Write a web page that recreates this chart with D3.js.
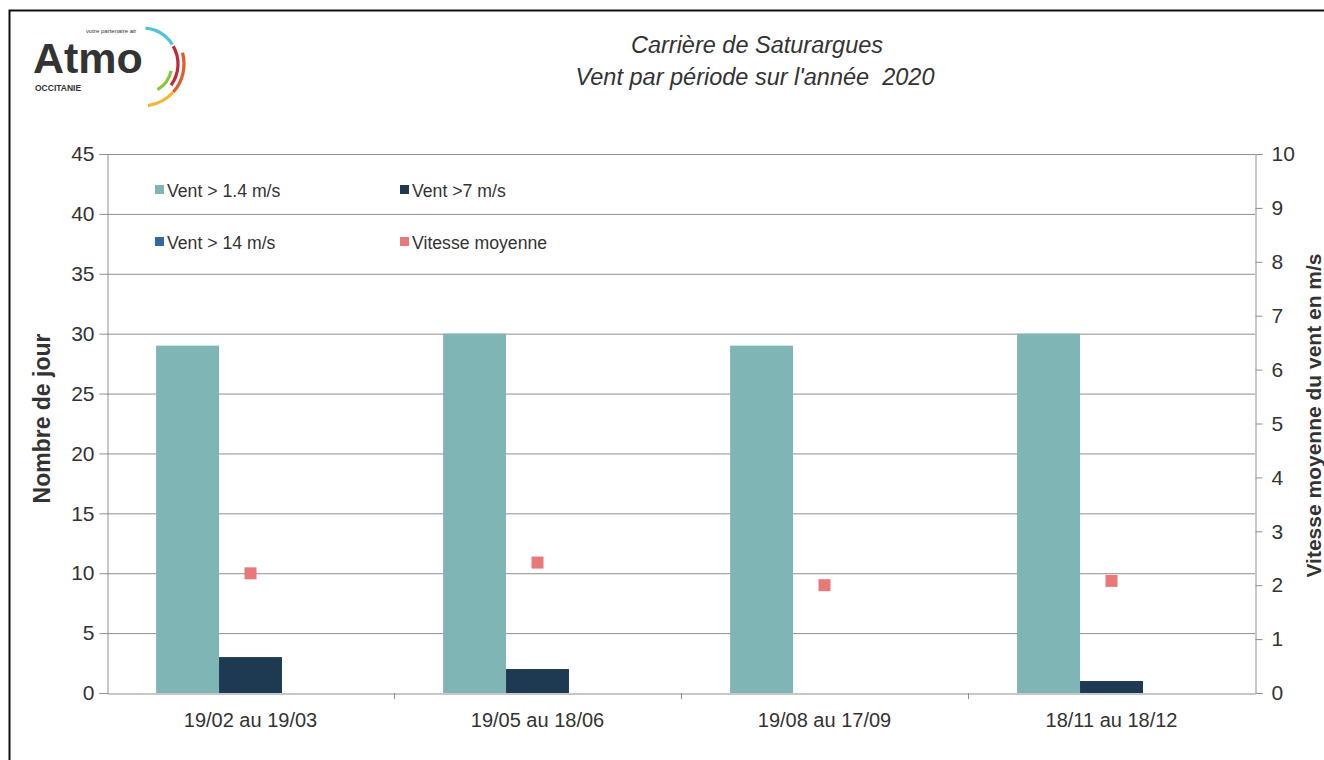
<!DOCTYPE html>
<html>
<head>
<meta charset="utf-8">
<script src="https://cdn.jsdelivr.net/npm/d3@7"></script>
<style>
  body { margin: 0; background: white; }
  svg text { font-family: "Liberation Sans", Arial, sans-serif; fill: #333; }
</style>
</head>
<body>
<svg></svg>
<script>
// données
const periods = ["19/02 au 19/03", "19/05 au 18/06", "19/08 au 17/09", "18/11 au 18/12"];
const vent14 = [29, 30, 29, 30];      // Vent > 1.4 m/s
const vent7 = [3, 2, 0, 1];           // Vent >7 m/s
const vent140 = [0, 0, 0, 0];         // Vent > 14 m/s
const vitesse = [2.22, 2.42, 2.0, 2.08]; // Vitesse moyenne (m/s)
const leftTicks = [0, 5, 10, 15, 20, 25, 30, 35, 40, 45];
const rightTicks = [0, 1, 2, 3, 4, 5, 6, 7, 8, 9, 10];

const series = [
  { name: "Vent > 1.4 m/s", values: vent14, color: "#80b5b6" },
  { name: "Vent >7 m/s", values: vent7, color: "#1e3a53" },
  { name: "Vent > 14 m/s", values: vent140, color: "#2f6aa0" }
];
const POINT_COLOR = "#e8787a";
const GRID = "#8f8f8f";

const W = 1324, H = 760;
const plot = { left: 107, right: 1255, top: 154, bottom: 693 };

const svg = d3.select("svg").attr("width", W).attr("height", H);

// cadre
svg.append("rect")
  .attr("x", 9.5).attr("y", 10.5)
  .attr("width", W).attr("height", H)
  .attr("fill", "none").attr("stroke", "#111").attr("stroke-width", 2);

// échelles
const x = d3.scaleBand().domain(periods).range([plot.left, plot.right]);
const xs = d3.scaleBand().domain(series.map(s => s.name))
  .range([0, x.bandwidth()]).paddingInner(0).paddingOuter(0.78);
const yL = d3.scaleLinear().domain([0, 45]).range([plot.bottom, plot.top]);
const yR = d3.scaleLinear().domain([0, 10]).range([plot.bottom, plot.top]);

// grille
svg.append("g").selectAll("line")
  .data(leftTicks.filter(d => d > 0))
  .enter().append("line")
  .attr("x1", plot.left).attr("x2", plot.right)
  .attr("y1", d => yL(d) + 0.5).attr("y2", d => yL(d) + 0.5)
  .attr("stroke", GRID).attr("stroke-width", 1);

// barres
series.forEach(s => {
  svg.append("g").selectAll("rect")
    .data(periods)
    .enter().append("rect")
    .attr("x", (d) => x(d) + xs(s.name))
    .attr("width", xs.bandwidth())
    .attr("y", (d, i) => yL(s.values[i]))
    .attr("height", (d, i) => yL(0) - yL(s.values[i]))
    .attr("fill", s.color);
});

// axe gauche
const axL = svg.append("g")
  .attr("transform", `translate(${plot.left + 0.5},0)`)
  .call(d3.axisLeft(yL).tickValues(leftTicks).tickSize(8).tickPadding(5));
axL.selectAll("text").style("font-size", "21px").attr("fill", "#444");

// axe droit
const axR = svg.append("g")
  .attr("transform", `translate(${plot.right + 0.5},0)`)
  .call(d3.axisRight(yR).tickValues(rightTicks).tickSize(7).tickPadding(9));
axR.selectAll("text").style("font-size", "21px").attr("fill", "#444");

// axe x
const axX = svg.append("g")
  .attr("transform", `translate(0,${plot.bottom + 0.5})`)
  .call(d3.axisBottom(x).tickSize(0).tickPadding(19));
axX.selectAll("text").style("font-size", "20px").attr("fill", "#333");
svg.append("g").selectAll("line")
  .data(periods.slice(1))
  .enter().append("line")
  .attr("x1", d => x(d) + 0.5).attr("x2", d => x(d) + 0.5)
  .attr("y1", plot.bottom).attr("y2", plot.bottom + 6)
  .attr("stroke", GRID);

[axL, axR, axX].forEach(a => {
  a.select(".domain").attr("stroke", GRID);
  a.selectAll(".tick line").attr("stroke", GRID);
});

// vitesse moyenne
svg.append("g").selectAll("rect")
  .data(periods)
  .enter().append("rect")
  .attr("x", d => x(d) + x.bandwidth() / 2 - 6)
  .attr("y", (d, i) => yR(vitesse[i]) - 6)
  .attr("width", 12).attr("height", 12)
  .attr("fill", POINT_COLOR);

// titres des axes
svg.append("text")
  .attr("transform", `translate(50,${(plot.top + plot.bottom) / 2 - 5}) rotate(-90)`)
  .attr("text-anchor", "middle")
  .style("font-size", "23px").style("font-weight", "bold")
  .attr("fill", "#222")
  .text("Nombre de jour");

svg.append("text")
  .attr("transform", `translate(1321,${(plot.top + plot.bottom) / 2 - 8}) rotate(-90)`)
  .attr("text-anchor", "middle")
  .style("font-size", "21px").style("font-weight", "bold")
  .attr("fill", "#222")
  .text("Vitesse moyenne du vent en m/s");

// légende
const legendItems = [
  { name: series[0].name, color: series[0].color, x: 155, y: 190 },
  { name: series[1].name, color: series[1].color, x: 400, y: 190 },
  { name: series[2].name, color: series[2].color, x: 155, y: 242 },
  { name: "Vitesse moyenne", color: POINT_COLOR, x: 400, y: 242 }
];
const lg = svg.append("g").selectAll("g")
  .data(legendItems)
  .enter().append("g")
  .attr("transform", d => `translate(${d.x},${d.y})`);
lg.append("rect")
  .attr("x", 0).attr("y", -5).attr("width", 9).attr("height", 9)
  .attr("fill", d => d.color);
lg.append("text")
  .attr("transform", "translate(12,7) scale(0.93,1)")
  .style("font-size", "19px").attr("fill", "#333")
  .text(d => d.name);

// titre
const title = svg.append("text")
  .attr("text-anchor", "middle")
  .attr("xml:space", "preserve")
  .style("font-size", "23.5px").style("font-style", "italic")
  .attr("fill", "#222");
title.append("tspan").attr("x", 757).attr("y", 53).text("Carrière de Saturargues");
title.append("tspan").attr("x", 755).attr("y", 85).text("Vent par période sur l'année  2020");

// logo
const logo = svg.append("g");
logo.append("text")
  .attr("x", 33).attr("y", 73)
  .style("font-size", "43px").style("font-weight", "bold")
  .attr("fill", "#2b3f8f")
  .text("Atmo");
logo.append("text")
  .attr("x", 35).attr("y", 91)
  .style("font-size", "8.5px").style("font-weight", "bold")
  .attr("fill", "#2b3f8f")
  .text("OCCITANIE");
logo.append("text")
  .attr("x", 86).attr("y", 33)
  .style("font-size", "6px").attr("fill", "#4a5ba8")
  .text("votre partenaire air");
const arcs = [
  { r: 36, a0: 0.1, a1: 1.0, color: "#4fc3d8" },
  { r: 36, a0: 1.05, a1: 2.2, color: "#c0283a" },
  { r: 42, a0: 1.3, a1: 2.3, color: "#e05a2a" },
  { r: 42, a0: 2.3, a1: 3.0, color: "#f2b632" },
  { r: 30, a0: 1.8, a1: 2.6, color: "#8cc63f" }
];
logo.selectAll("path")
  .data(arcs)
  .enter().append("path")
  .attr("transform", "translate(142,64)")
  .attr("d", d => d3.arc()({ innerRadius: d.r - 1.6, outerRadius: d.r + 1.6, startAngle: d.a0, endAngle: d.a1 }))
  .attr("fill", d => d.color);
</script>
</body>
</html>
